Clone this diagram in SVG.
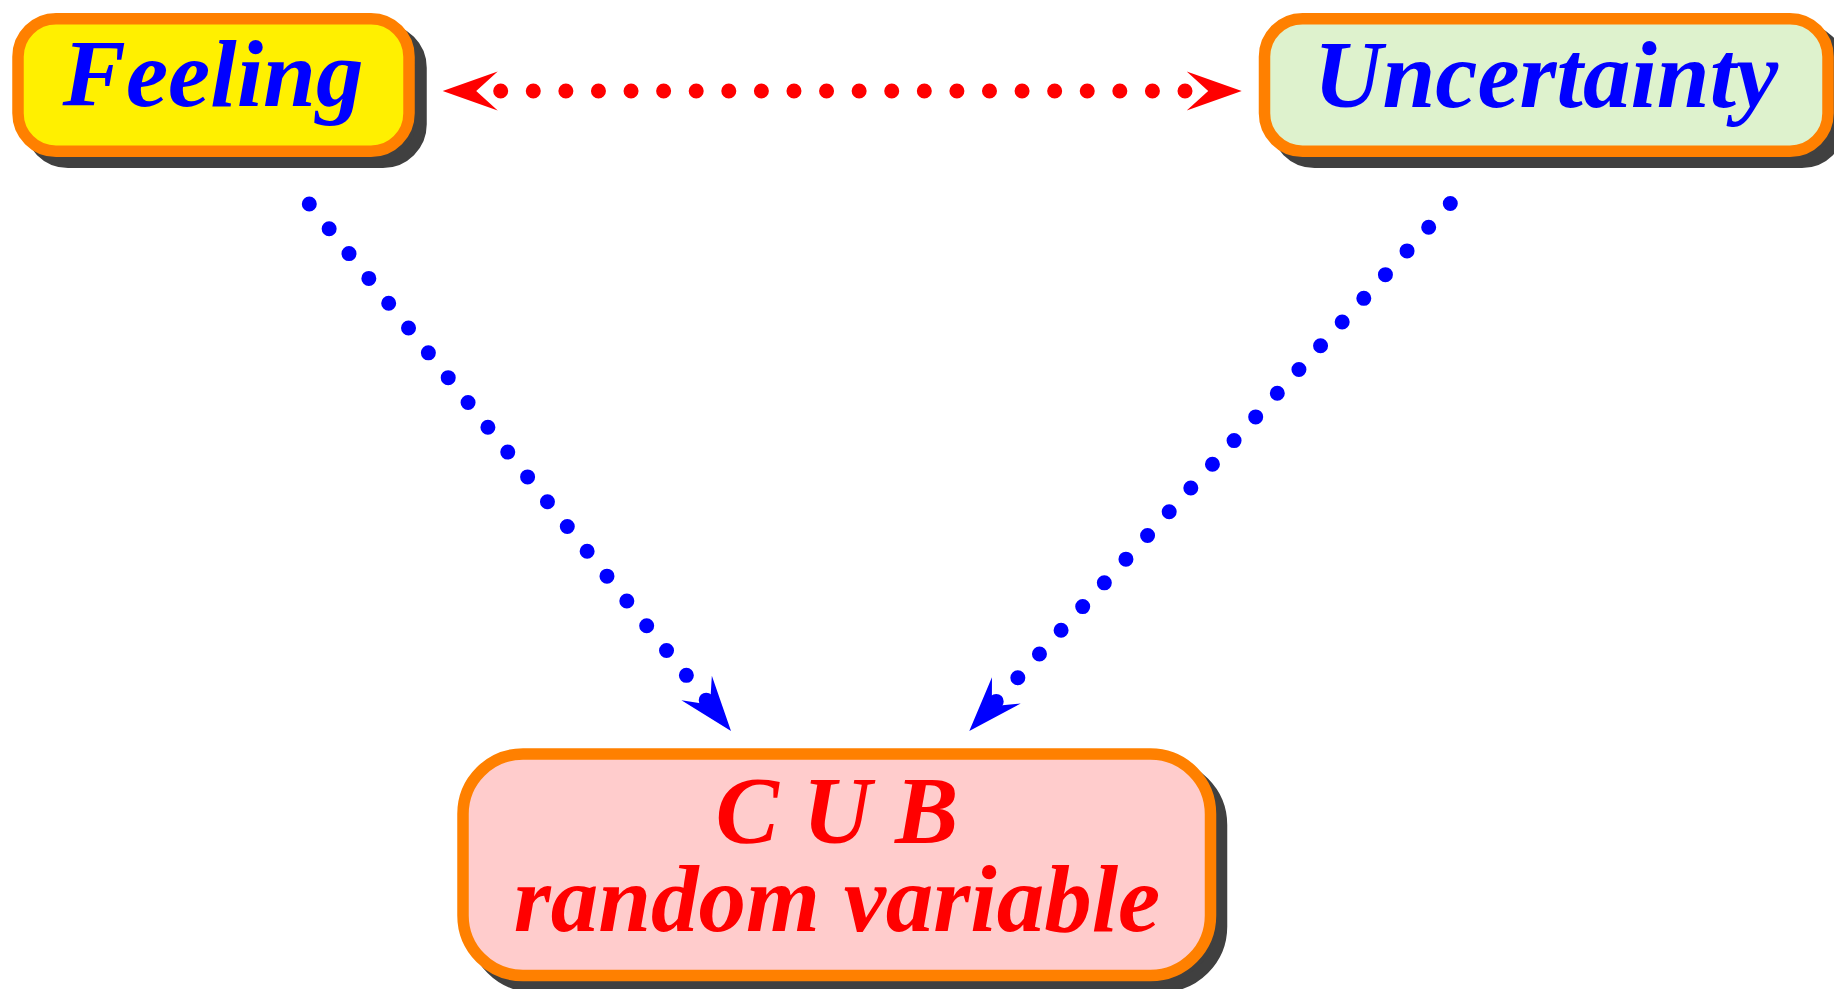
<svg xmlns="http://www.w3.org/2000/svg" xmlns:xlink="http://www.w3.org/1999/xlink" width="1834" height="989" viewBox="0 0 1834 989">
<style>
.box{stroke:#FF8000;stroke-width:11.5}
.shadow{fill:#404040;stroke:#404040;stroke-width:11.5}
.lbl{font-family:"Liberation Serif","Times New Roman",serif;font-weight:bold;font-style:italic;font-size:95px;text-anchor:middle}
.dots{fill:none;stroke-width:15;stroke-linecap:round}
</style>
<defs>
<path id="ah" d="M0 0 L-55 -19.5 L-33.5 0 L-55 19.5 Z"/>
</defs>
<rect width="1834" height="989" fill="#FFFFFF"/>
<g id="feeling">
<rect class="shadow" x="30" y="29.8" width="391" height="132.4" rx="38"/>
<rect class="box" x="18" y="18.8" width="391" height="132.4" rx="38" fill="#FFF000"/>
<text class="lbl" x="213" y="106" fill="#0000FF">Feeling</text>
</g>
<g id="uncertainty">
<rect class="shadow" x="1276.5" y="29.8" width="563.5" height="132.4" rx="38"/>
<rect class="box" x="1264.5" y="18.8" width="563.5" height="132.4" rx="38" fill="#DEF2CD"/>
<text class="lbl" x="1546" y="107" fill="#0000FF">Uncertainty</text>
</g>
<g id="cub">
<rect class="shadow" x="474" y="765" width="747.5" height="221.5" rx="60"/>
<rect class="box" x="463" y="754" width="747.5" height="221.5" rx="60" fill="#FFCCCC"/>
<text class="lbl" fill="#FF0000"><tspan x="837" y="843">C U B</tspan><tspan x="837" y="931">random variable</tspan></text>
</g>
<g id="connectors">
<line class="dots" x1="500.7" y1="91" x2="1186" y2="91" stroke="#FF0000" stroke-dasharray="0 32.586"/>
<use xlink:href="#ah" href="#ah" fill="#FF0000" transform="translate(442.7,91) rotate(180)"/>
<use xlink:href="#ah" href="#ah" fill="#FF0000" transform="translate(1241.7,91)"/>
<line class="dots" x1="309.3" y1="204" x2="706.8" y2="700.9" stroke="#0000FF" stroke-dasharray="0 31.77"/>
<use xlink:href="#ah" href="#ah" fill="#0000FF" transform="translate(731,731) rotate(51.33)"/>
<line class="dots" x1="1450.3" y1="203.5" x2="995.6" y2="702.1" stroke="#0000FF" stroke-dasharray="0 32.09"/>
<use xlink:href="#ah" href="#ah" fill="#0000FF" transform="translate(969.3,731) rotate(132.37)"/>
</g>
</svg>
